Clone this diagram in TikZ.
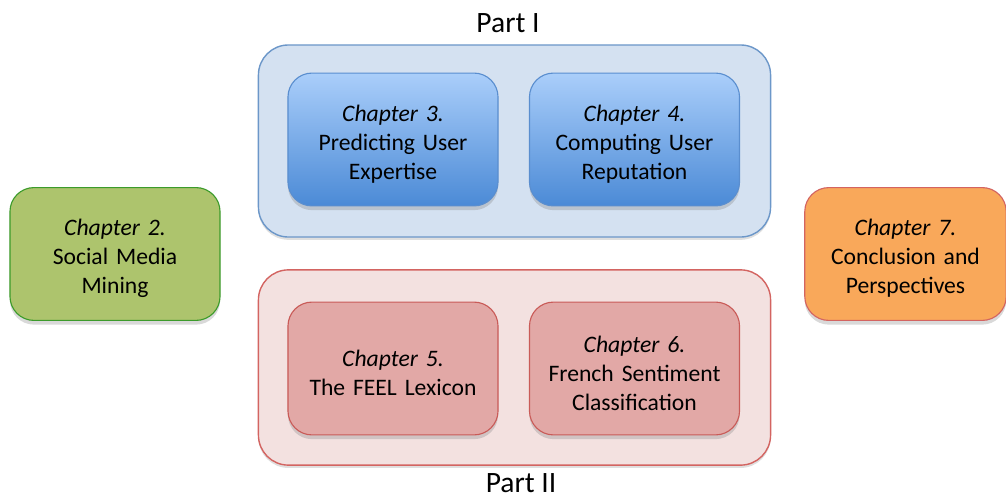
\documentclass[tikz,border=0pt]{standalone}
\usepackage{fontspec}
\setmainfont{Carlito}
\usetikzlibrary{shadows, positioning}

\definecolor{partIfill}{HTML}{D4E1F1}
\definecolor{partIline}{HTML}{6C97C9}
\definecolor{partIIfill}{HTML}{F3E1E0}
\definecolor{partIIline}{HTML}{D36461}
\definecolor{chbluetop}{HTML}{AACEFA}
\definecolor{chbluebot}{HTML}{4B8AD6}
\definecolor{chblueline}{HTML}{5A8ECF}
\definecolor{chredfill}{HTML}{E2A8A6}
\definecolor{chredline}{HTML}{C95B58}
\definecolor{chgreenfill}{HTML}{ADC46D}
\definecolor{chgreenline}{HTML}{3C9B2B}
\definecolor{chorangefill}{HTML}{F9A85A}

\tikzset{
  partbox/.style={draw, line width=1pt, rounded corners=0.75cm,
    minimum width=12.8cm, drop shadow={shadow xshift=0pt, shadow yshift=-2pt, opacity=0.25}},
  chapbox/.style={draw, line width=0.8pt, rounded corners=0.6cm, align=center,
    minimum width=5.25cm, minimum height=3.32cm, text width=5cm,
    font=\fontsize{16.8}{20.6}\selectfont,
    execute at begin node={\rule{0pt}{18pt}},
    drop shadow={shadow xshift=0pt, shadow yshift=-3pt, opacity=0.3}},
  bluechap/.style={chapbox, draw=chblueline, top color=chbluetop, bottom color=chbluebot},
  redchap/.style={chapbox, draw=chredline, fill=chredfill},
  parttitle/.style={font=\fontsize{21}{25}\selectfont, inner sep=0.5pt}
}

\begin{document}
\begin{tikzpicture}[x=0.025cm, y=-0.025cm]
  \useasboundingbox (0,0) rectangle (1006,500);
  % the two parts
  \node[partbox, draw=partIline, fill=partIfill, minimum height=4.8cm] (part1) at (514.5,141) {};
  \node[partbox, draw=partIIline, fill=partIIfill, minimum height=4.88cm] (part2) at (514.5,367.5) {};
  \node[parttitle] (t1) at (508,23) {Part I};
  \node[parttitle] (t2) at (521,483.5) {Part II};
  % chapters in part I
  \node[bluechap] (ch3) at (393,139.5) {\textit{Chapter 3.}\\Predicting User\\Expertise};
  \node[bluechap] (ch4) at (634.5,139.5) {\textit{Chapter 4.}\\Computing User\\Reputation};
  % chapters in part II
  \node[redchap] (ch5) at (393,368.5) {\textit{Chapter 5.}\\The FEEL Lexicon};
  \node[redchap] (ch6) at (634.5,368.5) {\textit{Chapter 6.}\\French Sentiment\\Classification};
  % first and last chapter
  \node[chapbox, draw=chgreenline, fill=chgreenfill] (ch2) at (115,254) {\textit{Chapter 2.}\\Social Media\\Mining};
  \node[chapbox, draw=partIIline, fill=chorangefill, minimum width=5cm, text width=4.8cm] (ch7) at (905.5,254) {\textit{Chapter 7.}\\Conclusion and\\Perspectives};
\end{tikzpicture}
\end{document}
